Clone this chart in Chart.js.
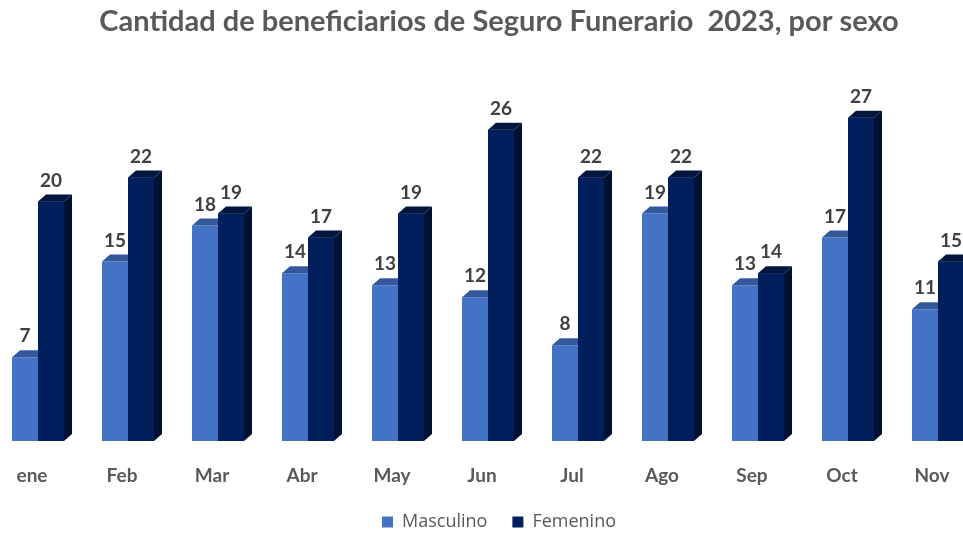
<!DOCTYPE html>
<html>
<head>
<meta charset="utf-8">
<script src="https://cdn.jsdelivr.net/npm/chart.js@4/dist/chart.umd.min.js"></script>
<style>
  html, body { margin: 0; padding: 0; background: #fff; }
  body { width: 963px; height: 535px; overflow: hidden; position: relative; }
  #wrap { position: absolute; left: -20px; top: 0; width: 1038px; height: 541px; }
</style>
</head>
<body>
<div id="wrap"><canvas id="chart"></canvas></div>
<script>
// Data
const months = ['ene', 'Feb', 'Mar', 'Abr', 'May', 'Jun', 'Jul', 'Ago', 'Sep', 'Oct', 'Nov'];
const masculino = [7, 15, 18, 14, 13, 12, 8, 19, 13, 17, 11];
const femenino = [20, 22, 19, 17, 19, 26, 22, 22, 14, 27, 15];

const dx = 8, dy = 7;

function drawFaces(ctx, meta, ds) {
  meta.data.forEach(bar => {
    const { x, y, base, width } = bar.getProps(['x', 'y', 'base', 'width'], true);
    const l = x - width / 2, r = x + width / 2;
    ctx.fillStyle = ds.sideColor;
    ctx.beginPath();
    ctx.moveTo(r, y); ctx.lineTo(r + dx, y - dy); ctx.lineTo(r + dx, base - dy); ctx.lineTo(r, base);
    ctx.closePath(); ctx.fill();
    ctx.fillStyle = ds.topColor;
    ctx.beginPath();
    ctx.moveTo(l, y); ctx.lineTo(r, y); ctx.lineTo(r + dx, y - dy); ctx.lineTo(l + dx, y - dy);
    ctx.closePath(); ctx.fill();
  });
}

// 3D faces: Chart.js paints the last dataset first, so repaint back to front here
const bar3d = {
  id: 'bar3d',
  afterDatasetsDraw(chart) {
    const ctx = chart.ctx;
    ctx.save();
    chart.data.datasets.forEach((ds, i) => {
      const meta = chart.getDatasetMeta(i);
      if (i > 0) meta.data.forEach(bar => bar.draw(ctx));
      drawFaces(ctx, meta, ds);
    });
    ctx.restore();
  }
};

// Value labels above bars
const valueLabels = {
  id: 'valueLabels',
  afterDatasetsDraw(chart) {
    const ctx = chart.ctx;
    ctx.save();
    ctx.font = "bold 19px Lato, sans-serif";
    ctx.fillStyle = '#404040';
    ctx.textAlign = 'center';
    ctx.textBaseline = 'middle';
    chart.data.datasets.forEach((ds, i) => {
      chart.getDatasetMeta(i).data.forEach((bar, j) => {
        ctx.fillText(ds.data[j], bar.x, bar.y - 21);
      });
    });
    ctx.restore();
  }
};

const ctx = document.getElementById('chart').getContext('2d');
new Chart(ctx, {
  type: 'bar',
  data: {
    labels: months,
    datasets: [{
      label: 'Masculino',
      data: masculino,
      backgroundColor: '#4472C4',
      topColor: '#34599B',
      sideColor: '#2F5190',
      categoryPercentage: 0.578,
      barPercentage: 1
    }, {
      label: 'Femenino',
      data: femenino,
      backgroundColor: '#001F5C',
      topColor: '#00163F',
      sideColor: '#001133',
      categoryPercentage: 0.578,
      barPercentage: 1
    }]
  },
  options: {
    responsive: true,
    maintainAspectRatio: false,
    animation: false,
    layout: { padding: 0 },
    plugins: {
      title: {
        display: true,
        text: 'Cantidad de beneficiarios de Seguro Funerario  2023, por sexo',
        color: '#595959',
        font: { family: 'Lato, sans-serif', size: 29, weight: 'bold', lineHeight: 1.2 },
        padding: { top: 4, bottom: 43 }
      },
      legend: {
        position: 'bottom',
        labels: {
          color: '#595959',
          font: { family: "'Open Sans', sans-serif", size: 18 },
          boxWidth: 11,
          boxHeight: 11,
          padding: 25
        }
      },
      tooltip: { enabled: false }
    },
    scales: {
      x: {
        grid: { display: false, drawTicks: false },
        border: { display: false },
        ticks: {
          color: '#595959',
          font: { family: 'Lato, sans-serif', size: 19, weight: 'bold' },
          padding: 23,
          labelOffset: -6
        },
        afterFit: s => { s.height = 47; }
      },
      y: {
        min: 0,
        max: 30,
        grid: { display: false, drawTicks: false },
        border: { display: false },
        ticks: { display: false },
        afterFit: s => { s.width = 13; }
      },
      y2: {
        position: 'right',
        grid: { display: false, drawTicks: false },
        border: { display: false },
        ticks: { display: false },
        afterFit: s => { s.width = 35; }
      }
    }
  },
  plugins: [bar3d, valueLabels]
});
</script>
</body>
</html>
